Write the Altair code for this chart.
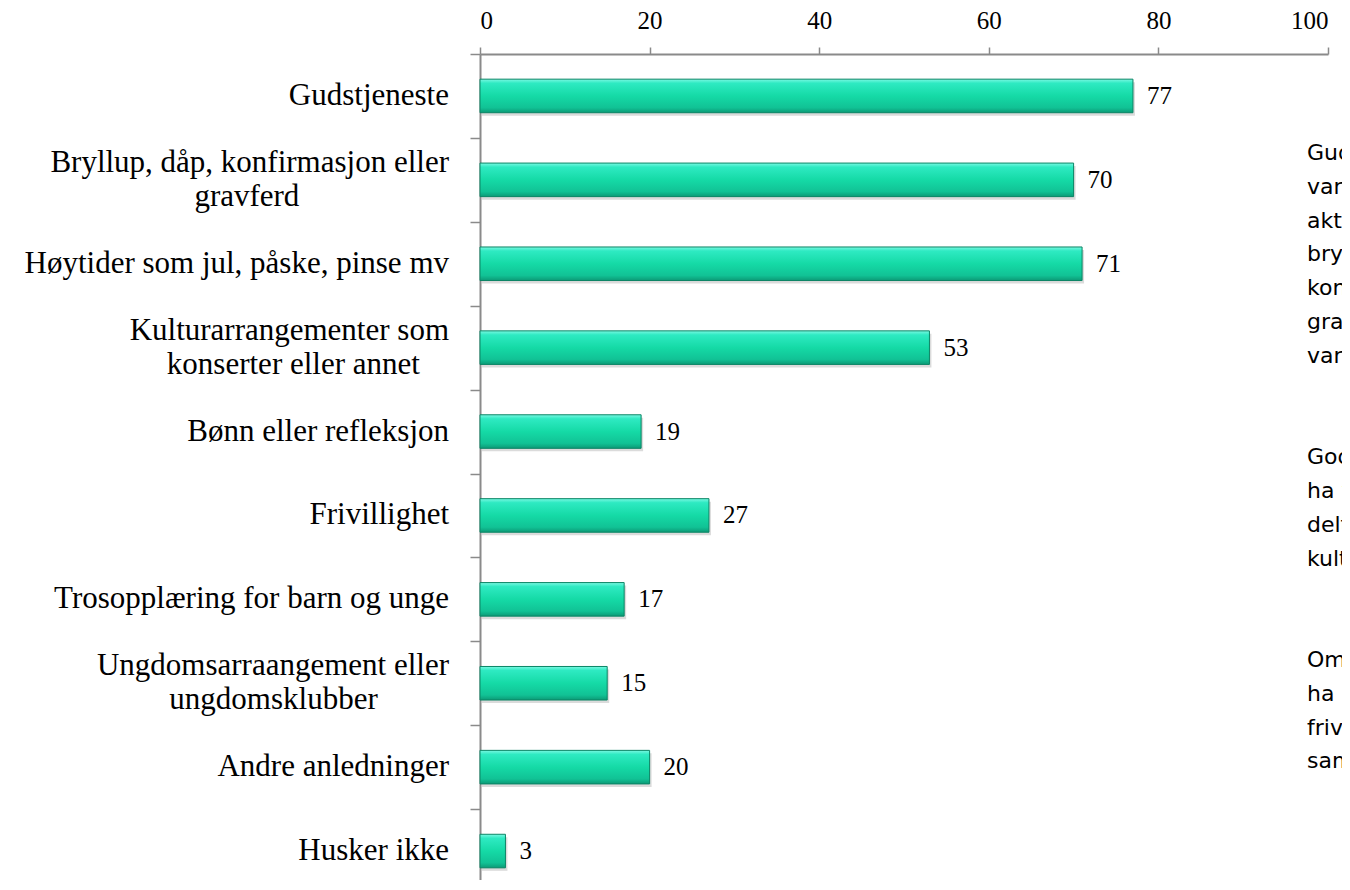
import altair as alt
import pandas as pd

categories = [
    "Gudstjeneste",
    "Bryllup, dåp, konfirmasjon eller\ngravferd",
    "Høytider som jul, påske, pinse mv",
    "Kulturarrangementer som\nkonserter eller annet",
    "Bønn eller refleksjon",
    "Frivillighet",
    "Trosopplæring for barn og unge",
    "Ungdomsarraangement eller\nungdomsklubber",
    "Andre anledninger",
    "Husker ikke",
]
values = [77, 70, 71, 53, 19, 27, 17, 15, 20, 3]
x_ticks = [0, 20, 40, 60, 80, 100]
side_par1 = [
    "Gudstjeneste og",
    "var de mest",
    "aktuelle, sammen med",
    "bryllup, dåp,",
    "konfirmasjon eller",
    "gravferd. Høytider",
    "var også viktige.",
]
side_par2 = [
    "Godt over halvparten",
    "ha vært med og",
    "deltatt på",
    "kulturarrangementer.",
]
side_par3 = [
    "Omtrent en av fire",
    "ha bidratt med",
    "frivillig arbeid",
    "sammen med andre.",
]

rows = []
for c, v in zip(categories, values):
    parts = c.split("\n")
    rows.append({
        "cat": c,
        "val": v,
        "line1": parts[0],
        "line2": parts[1] if len(parts) > 1 else "",
        "nlines": len(parts),
    })
df = pd.DataFrame(rows)

SERIF = "Liberation Serif"
AXIS_GREY = "#8a8a8a"
LABEL_SIZE = 31

y_enc = alt.Y(
    "cat:N",
    sort=categories,
    scale=alt.Scale(range=[0, 839], paddingInner=0, paddingOuter=0),
    axis=alt.Axis(
        labels=False, title=None, ticks=True, tickBand="extent", tickSize=10,
        tickColor=AXIS_GREY, tickWidth=1.5, domainColor=AXIS_GREY, domainWidth=2,
        grid=False,
    ),
)
x_scale = alt.Scale(domain=[0, 100], nice=False)
x_axis = alt.Axis(
    orient="top", values=x_ticks, title=None, grid=False,
    labelFont=SERIF, labelFontSize=25, labelColor="#000000", labelPadding=14,
    tickSize=7, tickColor=AXIS_GREY, tickWidth=1.5,
    domainColor=AXIS_GREY, domainWidth=2,
)
x_enc = alt.X("val:Q", scale=x_scale, axis=x_axis)

base = alt.Chart(df)

shadow = base.mark_bar(
    color="#000000", opacity=0.14, xOffset=2, yOffset=3, height={"band": 0.4}
).encode(x=x_enc, y=y_enc)

gradient = {
    "gradient": "linear",
    "x1": 0, "x2": 0, "y1": 0, "y2": 1,
    "stops": [
        {"offset": 0.0, "color": "#7af8e2"},
        {"offset": 0.12, "color": "#2eeac2"},
        {"offset": 0.5, "color": "#15daa6"},
        {"offset": 0.85, "color": "#11c295"},
        {"offset": 1.0, "color": "#0c9a76"},
    ],
}
bars = base.mark_bar(
    color=gradient, stroke="#0b8565", strokeWidth=1, height={"band": 0.4}
).encode(x=x_enc, y=y_enc)

value_labels = base.mark_text(
    align="left", baseline="middle", dx=14, font=SERIF, fontSize=25, color="#000000"
).encode(x=x_enc, y=y_enc, text="val:Q")

single = base.transform_filter("datum.nlines == 1").mark_text(
    align="right", baseline="middle", font=SERIF, fontSize=LABEL_SIZE, color="#000000"
).encode(x=alt.value(-31), y=y_enc, text="line1:N")

first = base.transform_filter("datum.nlines == 2").mark_text(
    align="right", baseline="middle", dy=-17, font=SERIF, fontSize=LABEL_SIZE,
    color="#000000",
).encode(x=alt.value(-31), y=y_enc, text="line1:N")

# centre the second line under the first (width estimated from wide / narrow glyphs)
second = base.transform_filter("datum.nlines == 2").transform_calculate(
    nw="length(replace(datum.line1, /[iljtfr ,]/g, ''))"
).transform_calculate(
    w1="(0.52 * datum.nw + 0.28 * (length(datum.line1) - datum.nw)) * %d" % LABEL_SIZE
).transform_calculate(
    cx="-(31 + datum.w1 / 2) * 100 / width"
).mark_text(
    align="center", baseline="middle", dy=17, font=SERIF, fontSize=LABEL_SIZE,
    color="#000000",
).encode(
    x=alt.X("cx:Q", scale=x_scale, axis=x_axis),
    y=y_enc, text="line2:N",
)

one = pd.DataFrame({"k": [0]})
LINE_H = 33.8


def side_block(lines, y):
    return alt.Chart(one).mark_text(
        text=lines, align="left", baseline="alphabetic", font="DejaVu Sans",
        fontSize=22, lineHeight=LINE_H, color="#000000",
    ).encode(x=alt.value(827), y=alt.value(y))


side1 = side_block(side_par1, 106)
side2 = side_block(side_par2, 106 + 9 * LINE_H)
side3 = side_block(side_par3, 106 + 15 * LINE_H)

chart = alt.layer(
    shadow, bars, value_labels, single, first, second, side1, side2, side3
).properties(
    width=848,
    height=826,
    padding={"left": 472, "top": 46, "right": 14, "bottom": 0},
    autosize=alt.AutoSizeParams(type="none"),
    background="#ffffff",
).configure_view(stroke="transparent", strokeWidth=0)

chart.save("out.html", embed_options={"renderer": "svg", "actions": False})
